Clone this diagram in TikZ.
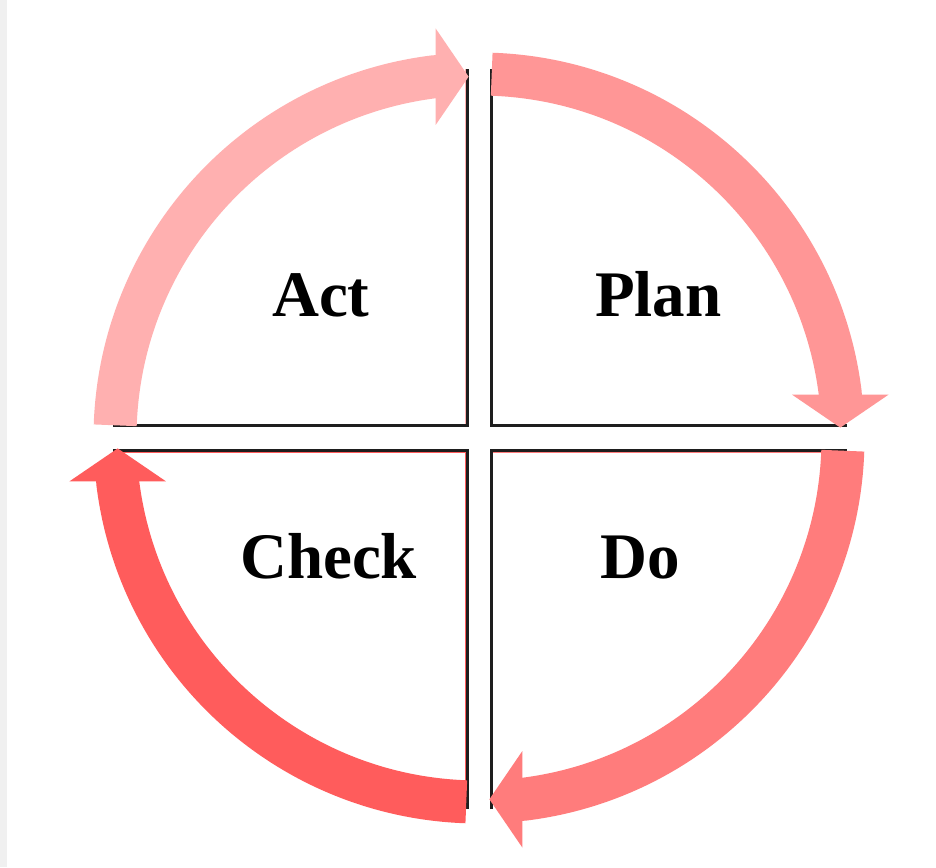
\documentclass[tikz,border=0pt]{standalone}
\usepackage{fontspec}
\setmainfont{Liberation Serif}
\usetikzlibrary{arrows.meta}
\definecolor{actc}{RGB}{255,176,176}
\definecolor{planc}{RGB}{255,150,150}
\definecolor{doc}{RGB}{255,124,124}
\definecolor{checkc}{RGB}{255,92,92}
\definecolor{edgec}{RGB}{240,240,240}
\definecolor{crossc}{RGB}{30,30,30}
\begin{document}
\begin{tikzpicture}[x=1pt,y=1pt,
  band/.style={line width=43pt,line join=round,-{Triangle[width=95pt,length=33pt]}},
  lbl/.style={font=\bfseries\fontsize{65}{70}\selectfont,anchor=base west,inner sep=0pt},
  cross/.style={line width=3pt,draw=crossc,line join=miter},
  rim/.style={line width=1pt}]
\useasboundingbox (-479,-429) rectangle (457,438);
\fill[white] (-479,-429) rectangle (457,438);
\fill[edgec] (-479,-429) rectangle (-472,438);
% thin coloured rims inside the quadrants
\draw[rim,actc] (-366,14) -- (-13.5,14) -- (-13.5,369);
\draw[rim,planc] (13.5,369) -- (13.5,14) -- (368,14);
\draw[rim,checkc] (-366,-14) -- (-13.5,-14) -- (-13.5,-371);
\draw[rim,doc] (13.5,-371) -- (13.5,-14) -- (368,-14);
% cross
\draw[cross] (-366,12.5) -- (-12,12.5) -- (-12,369);
\draw[cross] (12,369) -- (12,12.5) -- (368,12.5);
\draw[cross] (-366,-12.5) -- (-12,-12.5) -- (-12,-371);
\draw[cross] (12,-371) -- (12,-12.5) -- (368,-12.5);
% arrows
\draw[band,actc] (178:364) arc[start angle=178,end angle=97,radius=364] -- ++(34,0);
\draw[band,planc] (88:364) arc[start angle=88,end angle=7,radius=364] -- ++(0,-34);
\draw[band,doc] (-2:364) arc[start angle=-2,end angle=-83,radius=364] -- ++(-34,0);
\draw[band,checkc] (-92:364) arc[start angle=-92,end angle=-173,radius=364] -- ++(0,34);
% labels
\node[lbl] (act) at (-207,121) {Act};
\node[lbl] (plan) at (116,121) {Plan};
\node[lbl] (check) at (-239,-140) {Check};
\node[lbl] (do) at (121,-140) {Do};
\end{tikzpicture}
\end{document}
